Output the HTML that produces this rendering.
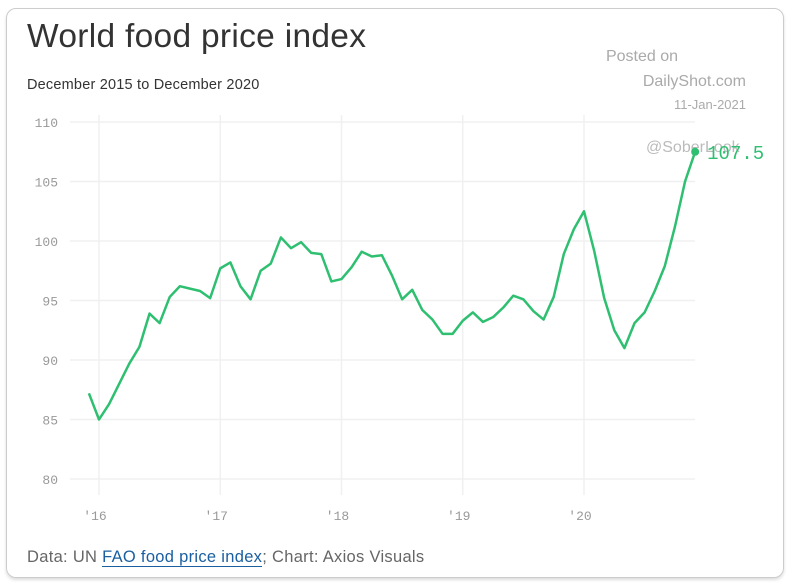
<!DOCTYPE html>
<html><head><meta charset="utf-8"><style>
body{margin:0;width:800px;height:586px;background:#fff;overflow:hidden;font-family:"Liberation Sans",sans-serif}
#card{position:absolute;left:6px;top:8px;width:776px;height:568px;border:1.5px solid #ccc;border-radius:10px;box-shadow:0 2px 3px #ddd}
.t{position:absolute;white-space:nowrap}
</style></head><body>
<div id="card"></div>
<div class="t" style="left:27px;top:18px;font-size:33.5px;color:#333;letter-spacing:0.3px">World food price index</div>
<div class="t" style="left:27px;top:77px;font-size:14.5px;color:#333;letter-spacing:0.2px">December 2015 to December 2020</div>
<div class="t" style="right:122px;top:48px;font-size:16px;color:#aaa">Posted on</div>
<div class="t" style="right:54px;top:73px;font-size:16px;color:#aaa">DailyShot.com</div>
<div class="t" style="right:54px;top:97px;font-size:13px;color:#aaa">11-Jan-2021</div>
<div class="t" style="left:27px;top:548px;font-size:16.5px;color:#666;letter-spacing:0.3px">Data: UN <span style="color:#1a5fa0;border-bottom:1px solid #1a5fa0">FAO food price index</span>; Chart: Axios Visuals</div>
<svg id="chart" width="800" height="586" style="position:absolute;left:0;top:0"></svg>
<script>
const yTicks=[80,85,90,95,100,105,110];
const xTickLabels=["'16","'17","'18","'19","'20"];
const xTickYears=[2016,2017,2018,2019,2020];
const values=[87.2,85.0,86.3,88.0,89.7,91.1,93.9,93.1,95.3,96.2,96.0,95.8,95.2,97.7,98.2,96.2,95.1,97.5,98.1,100.3,99.4,99.9,99.0,98.9,96.6,96.8,97.8,99.1,98.7,98.8,97.1,95.1,95.9,94.2,93.4,92.2,92.2,93.3,94.0,93.2,93.6,94.4,95.4,95.1,94.1,93.4,95.3,98.9,101.0,102.5,99.2,95.2,92.5,91.0,93.1,94.0,95.8,97.9,101.2,105.0,107.5];
const lastLabel="107.5";
const NS="http://www.w3.org/2000/svg",svg=document.getElementById('chart');
const y=v=>479-(v-80)*(357/30);
const x=m=>99+(m-1)*(485/48);
function mk(t,a){const e=document.createElementNS(NS,t);for(const k in a)e.setAttribute(k,a[k]);svg.appendChild(e);return e;}
yTicks.forEach(v=>{
 const l=mk('line',{x1:70,x2:695,y1:y(v),y2:y(v),stroke:'#f0f0f0','stroke-width':1.5});
 
 
 const t=mk('text',{x:58,y:y(v)+5,'text-anchor':'end','font-family':'Liberation Mono, monospace','font-size':13,fill:'#999'});
 t.textContent=v;
 
 
});
xTickYears.forEach((yr,i)=>{
 const xx=x((yr-2016)*12+1);
 const l=mk('line',{x1:xx,x2:xx,y1:115,y2:495,stroke:'#f0f0f0','stroke-width':1.5});
 
 
 const t=mk('text',{x:xx-4,y:520,'text-anchor':'middle','font-family':'Liberation Mono, monospace','font-size':13,fill:'#999'});
 t.textContent=xTickLabels[i];
 
 
});
const pts=values.map((v,i)=>x(i)+','+y(v)).join(' ');
const pl=mk('polyline',{points:pts,fill:'none',stroke:'#2fbf71','stroke-width':2.5,'stroke-linejoin':'round'});


const n=values.length-1;
const wm=mk('text',{x:646,y:152,'font-family':'Liberation Sans, sans-serif','font-size':16,fill:'#bbb'});
wm.textContent='@SoberLook';


const dot=mk('circle',{cx:x(n),cy:y(values[n]),r:4,fill:'#2fbf71'});


const lab=mk('text',{x:x(n)+12,y:y(values[n])+7,'font-family':'Liberation Mono, monospace','font-size':19,fill:'#2fbf71'});
lab.textContent=lastLabel;


</script>
</body></html>
